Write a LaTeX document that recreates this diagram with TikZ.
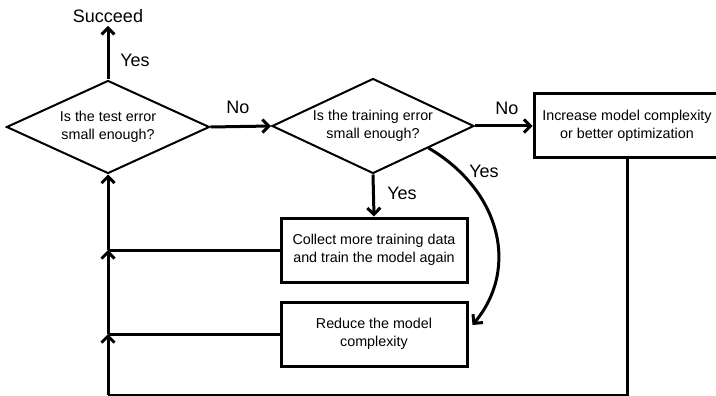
\documentclass[tikz,border=0pt]{standalone}
\usepackage{fontspec}
\setmainfont{Liberation Sans}
\usetikzlibrary{shapes.geometric,arrows.meta,calc}
\begin{document}
\begin{tikzpicture}[x=1pt,y=-1pt,
  flow/.style={line width=3pt, -{Straight Barb[length=6.5pt,width=13pt,line width=3pt]}},
  plain/.style={line width=3pt},
  decision/.style={diamond, draw, line width=2pt, inner sep=0pt, aspect=2.18,
    align=center, font=\fontsize{14.3}{18.5}\selectfont},
  stepbox/.style={rectangle, draw, line width=3pt, inner sep=0pt, align=center,
    minimum height=64pt, font=\fontsize{14.3}{18.5}\selectfont},
  lbl/.style={font=\fontsize{18}{20}\selectfont, inner sep=0pt}]
\useasboundingbox (0,0) rectangle (716,396);

% decisions
\node[decision, minimum width=203pt, minimum height=93pt] (test) at (108,127)
  {Is the test error\\small enough?};
\node[decision, minimum width=202pt, minimum height=95pt] (train) at (373,126)
  {Is the training error\\small enough?};

% outcome and actions
\node[lbl] (succ) at (108,16) {Succeed};
\node[stepbox, minimum width=186pt] (incr) at (627,126)
  {Increase model complexity\\or better optimization};
\node[stepbox, minimum width=186pt] (collect) at (374,250)
  {Collect more training data\\and train the model again};
\node[stepbox, minimum width=186pt] (reduce) at (374,334)
  {Reduce the model\\complexity};

% branch labels
\node[lbl] at (135,60) {Yes};
\node[lbl] at (238,107) {No};
\node[lbl] at (507,108) {No};
\node[lbl] at (402,193) {Yes};
\node[lbl] at (484,171) {Yes};

% helper points of the feedback loop
\coordinate (j1) at (collect.west -| test.south);
\coordinate (j2) at (reduce.west -| test.south);
\coordinate (br) at (incr.south |- 0,395);
\coordinate (bl) at (test.south |- 0,395);
\coordinate (cs) at ($(train.south)!0.545!(train.east)$);
\coordinate (ce) at ([xshift=4pt,yshift=9pt]reduce.east);

% connectors
\draw[flow] (test.north) -- ([yshift=-3pt]succ.south);
\draw[flow] (test.east) -- (train.west);
\draw[flow] (train.east) -- (incr.west);
\draw[flow] (train.south) -- (collect.north);
\draw[flow] (cs) .. controls (500,190) and (520,268) .. (ce);
\draw[plain] (collect.west) -- (j1);
\draw[plain] (reduce.west) -- (j2);
\draw[plain] (incr.south) -- (br) -- (bl);
\draw[flow] (bl) -- (j2);
\draw[flow] (j2) -- (j1);
\draw[flow] (j1) -- (test.south);
\end{tikzpicture}
\end{document}
